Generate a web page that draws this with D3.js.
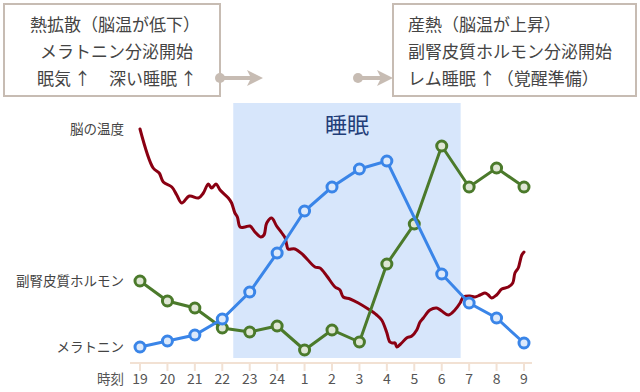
<!DOCTYPE html>
<html><head><meta charset="utf-8">
<script src="https://cdn.jsdelivr.net/npm/d3@7"></script>
<style>body{margin:0;background:#fff}svg{display:block}</style>
</head><body>
<svg id="c" width="640" height="392"></svg>
<script>
const hours = ["19","20","21","22","23","24","1","2","3","4","5","6","7","8","9"];
const melatonin = [13,19,25,41,68,107,149,173,191,199,null,86,57,42,17];
const cortisol = [79,59,52,32,28,34,10,30,18,96,136,214,173,192,173];
// brain temperature: [hour offset from 19:00, level]
const brainTemp = [[0,231],[0.48,192],[0.7,187],[0.85,178],[1.16,173],[1.34,165],[1.52,157],[1.8,164],[2.13,162],[2.31,167],[2.49,176],[2.61,172],[2.77,176],[2.92,170],[3.22,162],[3.34,157],[3.46,147],[3.55,143],[3.65,133],[3.83,133],[4.01,134],[4.19,128],[4.4,123],[4.52,125],[4.62,137],[4.8,142],[4.98,134],[5.17,127],[5.29,122],[5.35,115],[5.4,111],[5.65,111],[5.95,105],[6.38,93],[6.56,92],[6.81,84],[7.11,73],[7.29,70],[7.41,63],[7.66,61],[7.96,57],[8.32,51],[8.63,45],[8.81,40],[8.99,28],[9.11,18],[9.21,17],[9.3,17],[9.36,13],[9.54,17],[9.72,22],[9.91,24],[10.09,30],[10.21,38],[10.33,42],[10.57,50],[10.82,52],[11.0,49],[11.24,45],[11.48,50],[11.67,57],[11.79,63],[12.03,64],[12.21,63],[12.4,65],[12.58,67],[12.7,65],[12.82,62],[13.0,65],[13.19,71],[13.43,73],[13.59,77],[13.67,87],[13.79,92],[13.85,98],[13.92,105],[14.0,108]];
const sleepSpan = [3.4, 11.69];
const seriesLabels = ["脳の温度","副腎皮質ホルモン","メラトニン"];
const leftBox = ["熱拡散（脳温が低下）","メラトニン分泌開始","眠気↑　深い睡眠↑"];
const rightBox = ["産熱（脳温が上昇）","副腎皮質ホルモン分泌開始","レム睡眠↑（覚醒準備）"];

const svg = d3.select("#c");
const font = "'Noto Sans CJK JP','Noto Sans',sans-serif";
const x = d3.scaleLinear().domain([0,14]).range([140,524]);
const y = d3.scaleLinear().domain([0,260]).range([360,100]);

// sleep band
svg.append("rect").attr("x",x(sleepSpan[0])).attr("y",103)
  .attr("width",x(sleepSpan[1])-x(sleepSpan[0])).attr("height",255)
  .attr("fill","#d7e6fb");
svg.append("text").attr("x",(x(sleepSpan[0])+x(sleepSpan[1]))/2).attr("y",133)
  .attr("text-anchor","middle").attr("font-family",font).attr("font-size",22)
  .attr("fill","#1f3d78").text("睡眠");

// boxes
const boxC = "#c7bcb3";
svg.append("rect").attr("x",4).attr("y",4).attr("width",216).attr("height",92)
  .attr("fill","#fff").attr("stroke",boxC).attr("stroke-width",2);
svg.append("rect").attr("x",393).attr("y",4).attr("width",243).attr("height",92)
  .attr("fill","#fff").attr("stroke",boxC).attr("stroke-width",2);

function boxText(str, xx, yy){
  const t = svg.append("text").attr("x",xx).attr("y",yy)
    .attr("font-family",font).attr("font-size",17).attr("fill","#444");
  const parts = str.split("↑");
  parts.forEach((p,i)=>{
    if(i>0){ t.append("tspan").attr("dx",3).text("↑"); t.append("tspan").attr("dx",1).text(p); }
    else t.append("tspan").text(p);
  });
}
const lx = [30,40,37];
leftBox.forEach((t,i)=>boxText(t,lx[i],31+i*27));
rightBox.forEach((t,i)=>boxText(t,408,31+i*27));

// arrows
function arrow(x0,x1,yy){
  svg.append("line").attr("x1",x0).attr("x2",x1-10).attr("y1",yy).attr("y2",yy)
    .attr("stroke",boxC).attr("stroke-width",4);
  svg.append("circle").attr("cx",x0).attr("cy",yy).attr("r",5).attr("fill",boxC);
  svg.append("path").attr("d",`M${x1-16},${yy-8}L${x1},${yy}L${x1-16},${yy+8}L${x1-12},${yy}Z`).attr("fill",boxC);
}
arrow(220,263,78);
arrow(358,393,78);

// axis
const axC = "#f2e1d3";
svg.append("line").attr("x1",130).attr("x2",532).attr("y1",363).attr("y2",363)
  .attr("stroke",axC).attr("stroke-width",2);
const ax = svg.append("g");
ax.selectAll("line.t").data(hours).join("line").attr("class","t")
  .attr("x1",(d,i)=>x(i)).attr("x2",(d,i)=>x(i)).attr("y1",363).attr("y2",371)
  .attr("stroke",axC).attr("stroke-width",2);
ax.selectAll("text").data(hours).join("text")
  .attr("x",(d,i)=>x(i)).attr("y",384).attr("text-anchor","middle")
  .attr("font-family",font).attr("font-size",14).attr("fill","#555").text(d=>d);
svg.append("text").attr("x",124).attr("y",384).attr("text-anchor","end")
  .attr("font-family",font).attr("font-size",13.5).attr("fill","#555").text("時刻");

// series labels
const labY = [134,286,352];
seriesLabels.forEach((t,i)=>svg.append("text").attr("x",124).attr("y",labY[i])
  .attr("text-anchor","end").attr("font-family",font).attr("font-size",13.5)
  .attr("fill","#444").text(t));

// brain temperature
svg.append("path").datum(brainTemp)
  .attr("d",d3.line().x(d=>x(d[0])).y(d=>y(d[1])).curve(d3.curveCatmullRom))
  .attr("fill","none").attr("stroke","#8a0012").attr("stroke-width",3)
  .attr("stroke-linejoin","round").attr("stroke-linecap","round");

function series(vals, stroke, fill){
  const pts = vals.map((v,i)=>[i,v]).filter(d=>d[1]!=null);
  svg.append("path").datum(pts)
    .attr("d",d3.line().x(d=>x(d[0])).y(d=>y(d[1])))
    .attr("fill","none").attr("stroke",stroke).attr("stroke-width",3);
  svg.append("g").selectAll("circle").data(pts).join("circle")
    .attr("cx",d=>x(d[0])).attr("cy",d=>y(d[1])).attr("r",5)
    .attr("fill",fill).attr("stroke",stroke).attr("stroke-width",3);
}
series(cortisol,"#4b7a2b","#dfe6d5");
series(melatonin,"#3a85e8","#dce9fb");
</script>
</body></html>
